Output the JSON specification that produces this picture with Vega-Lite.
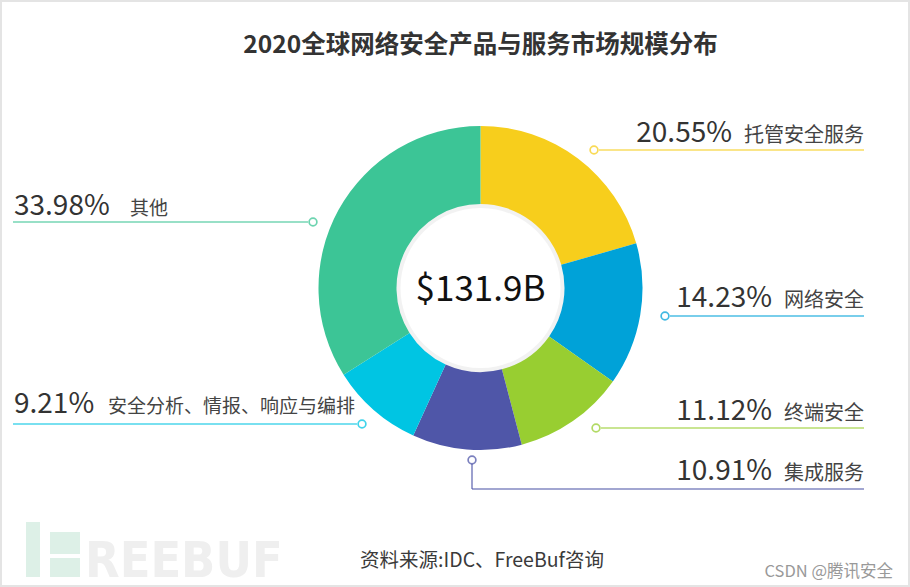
{
  "$schema": "https://vega.github.io/schema/vega-lite/v6.json",
  "width": 910,
  "height": 587,
  "autosize": {"type": "fit", "contains": "padding"},
  "padding": 0,
  "background": "white",
  "config": {
    "view": {"stroke": "#E4E4E4", "strokeWidth": 4},
    "font": "Noto Sans CJK SC"
  },
  "datasets": {
    "segments": [
      {"category": "托管安全服务", "share": 0.2055, "order": 1},
      {"category": "网络安全", "share": 0.1423, "order": 2},
      {"category": "终端安全", "share": 0.1112, "order": 3},
      {"category": "集成服务", "share": 0.1091, "order": 4},
      {"category": "安全分析、情报、响应与编排", "share": 0.0921, "order": 5},
      {"category": "其他", "share": 0.3398, "order": 6}
    ],
    "callouts": [
      {"category": "托管安全服务", "side": "R", "dotX": 594, "dotY": 150, "lineX1": 599, "lineX2": 864, "lineY": 150, "numX": 732, "nameX": 864, "textY": 142},
      {"category": "网络安全", "side": "R", "dotX": 665, "dotY": 316, "lineX1": 670, "lineX2": 864, "lineY": 316, "numX": 772, "nameX": 864, "textY": 307},
      {"category": "终端安全", "side": "R", "dotX": 596, "dotY": 428, "lineX1": 601, "lineX2": 864, "lineY": 428, "numX": 772, "nameX": 864, "textY": 420},
      {"category": "集成服务", "side": "R", "dotX": 472, "dotY": 460, "lineX1": 472, "lineX2": 864, "lineY": 489, "numX": 772, "nameX": 864, "textY": 480},
      {"category": "其他", "side": "L", "dotX": 313, "dotY": 222, "lineX1": 13, "lineX2": 308, "lineY": 222, "numX": 14, "nameX": 130, "textY": 215},
      {"category": "安全分析、情报、响应与编排", "side": "L", "dotX": 362, "dotY": 424, "lineX1": 13, "lineX2": 357, "lineY": 424, "numX": 14, "nameX": 108, "textY": 413}
    ],
    "elbows": [
      {"category": "集成服务", "x": 472, "y1": 464, "y2": 489}
    ],
    "logo": [
      {"part": "stem", "x1": 26, "x2": 40, "y1": 522, "y2": 577},
      {"part": "top", "x1": 50, "x2": 80, "y1": 532, "y2": 554},
      {"part": "bottom", "x1": 50, "x2": 80, "y1": 558, "y2": 577}
    ]
  },
  "layer": [
    {
      "data": {"name": "logo"},
      "mark": {"type": "rect", "color": "#DDF0E7"},
      "encoding": {
        "x": {"field": "x1", "type": "quantitative", "scale": {"domain": [0, 910], "nice": false, "zero": false}, "axis": null},
        "x2": {"field": "x2"},
        "y": {"field": "y1", "type": "quantitative", "scale": {"domain": [0, 587], "nice": false, "zero": false, "reverse": true}, "axis": null},
        "y2": {"field": "y2"}
      }
    },
    {
      "data": {"values": [{}]},
      "mark": {"type": "text", "text": "REEBUF", "font": "DejaVu Sans Condensed, DejaVu Sans", "fontWeight": "bold", "fontSize": 50, "color": "#EFEFEF", "align": "left", "baseline": "alphabetic"},
      "encoding": {
        "x": {"datum": 85, "type": "quantitative", "scale": {"domain": [0, 910], "nice": false, "zero": false}, "axis": null},
        "y": {"datum": 577, "type": "quantitative", "scale": {"domain": [0, 587], "nice": false, "zero": false, "reverse": true}, "axis": null}
      }
    },
    {
      "data": {"values": [{}]},
      "mark": {"type": "arc", "innerRadius": 80, "outerRadius": 86, "color": "#000000", "opacity": 0.05},
      "encoding": {
        "x": {"datum": 480.5, "type": "quantitative", "scale": {"domain": [0, 910], "nice": false, "zero": false}, "axis": null},
        "y": {"datum": 288, "type": "quantitative", "scale": {"domain": [0, 587], "nice": false, "zero": false, "reverse": true}, "axis": null}
      }
    },
    {
      "data": {"name": "segments"},
      "mark": {"type": "arc", "innerRadius": 84, "outerRadius": 162},
      "encoding": {
        "theta": {"field": "share", "type": "quantitative", "stack": true},
        "order": {"field": "order", "type": "quantitative"},
        "color": {
          "field": "category", "type": "nominal", "legend": null,
          "scale": {
            "domain": ["托管安全服务", "网络安全", "终端安全", "集成服务", "安全分析、情报、响应与编排", "其他"],
            "range": ["#F7CE1C", "#00A2D8", "#98CE31", "#4F56A8", "#00C5E3", "#3CC596"]
          }
        },
        "x": {"datum": 480.5, "type": "quantitative", "scale": {"domain": [0, 910], "nice": false, "zero": false}, "axis": null},
        "y": {"datum": 288, "type": "quantitative", "scale": {"domain": [0, 587], "nice": false, "zero": false, "reverse": true}, "axis": null}
      }
    },
    {
      "data": {"name": "callouts"},
      "mark": {"type": "rule", "strokeWidth": 1.6, "opacity": 0.7},
      "encoding": {
        "x": {"field": "lineX1", "type": "quantitative", "scale": {"domain": [0, 910], "nice": false, "zero": false}, "axis": null},
        "x2": {"field": "lineX2"},
        "y": {"field": "lineY", "type": "quantitative", "scale": {"domain": [0, 587], "nice": false, "zero": false, "reverse": true}, "axis": null},
        "color": {
          "field": "category", "type": "nominal", "legend": null,
          "scale": {
            "domain": ["托管安全服务", "网络安全", "终端安全", "集成服务", "安全分析、情报、响应与编排", "其他"],
            "range": ["#F7CE1C", "#00A2D8", "#98CE31", "#4F56A8", "#00C5E3", "#3CC596"]
          }
        }
      }
    },
    {
      "data": {"name": "elbows"},
      "mark": {"type": "rule", "strokeWidth": 1.6, "opacity": 0.7},
      "encoding": {
        "x": {"field": "x", "type": "quantitative", "scale": {"domain": [0, 910], "nice": false, "zero": false}, "axis": null},
        "y": {"field": "y1", "type": "quantitative", "scale": {"domain": [0, 587], "nice": false, "zero": false, "reverse": true}, "axis": null},
        "y2": {"field": "y2"},
        "color": {
          "field": "category", "type": "nominal", "legend": null,
          "scale": {
            "domain": ["托管安全服务", "网络安全", "终端安全", "集成服务", "安全分析、情报、响应与编排", "其他"],
            "range": ["#F7CE1C", "#00A2D8", "#98CE31", "#4F56A8", "#00C5E3", "#3CC596"]
          }
        }
      }
    },
    {
      "data": {"name": "callouts"},
      "mark": {"type": "point", "shape": "circle", "filled": false, "fill": "white", "fillOpacity": 1, "size": 60, "strokeWidth": 1.7, "opacity": 1, "strokeOpacity": 0.75},
      "encoding": {
        "x": {"field": "dotX", "type": "quantitative", "scale": {"domain": [0, 910], "nice": false, "zero": false}, "axis": null},
        "y": {"field": "dotY", "type": "quantitative", "scale": {"domain": [0, 587], "nice": false, "zero": false, "reverse": true}, "axis": null},
        "color": {
          "field": "category", "type": "nominal", "legend": null,
          "scale": {
            "domain": ["托管安全服务", "网络安全", "终端安全", "集成服务", "安全分析、情报、响应与编排", "其他"],
            "range": ["#F7CE1C", "#00A2D8", "#98CE31", "#4F56A8", "#00C5E3", "#3CC596"]
          }
        }
      }
    },
    {
      "data": {"name": "callouts"},
      "transform": [
        {"filter": "datum.side === 'R'"},
        {"lookup": "category", "from": {"data": {"name": "segments"}, "key": "category", "fields": ["share"]}}
      ],
      "mark": {"type": "text", "align": "right", "baseline": "alphabetic", "fontSize": 28, "color": "#333333"},
      "encoding": {
        "x": {"field": "numX", "type": "quantitative", "scale": {"domain": [0, 910], "nice": false, "zero": false}, "axis": null},
        "y": {"field": "textY", "type": "quantitative", "scale": {"domain": [0, 587], "nice": false, "zero": false, "reverse": true}, "axis": null},
        "text": {"field": "share", "type": "quantitative", "format": ".2%"}
      }
    },
    {
      "data": {"name": "callouts"},
      "transform": [{"filter": "datum.side === 'R'"}],
      "mark": {"type": "text", "align": "right", "baseline": "alphabetic", "fontSize": 20, "color": "#444444"},
      "encoding": {
        "x": {"field": "nameX", "type": "quantitative", "scale": {"domain": [0, 910], "nice": false, "zero": false}, "axis": null},
        "y": {"field": "textY", "type": "quantitative", "scale": {"domain": [0, 587], "nice": false, "zero": false, "reverse": true}, "axis": null},
        "text": {"field": "category", "type": "nominal"}
      }
    },
    {
      "data": {"name": "callouts"},
      "transform": [
        {"filter": "datum.side === 'L'"},
        {"lookup": "category", "from": {"data": {"name": "segments"}, "key": "category", "fields": ["share"]}}
      ],
      "mark": {"type": "text", "align": "left", "baseline": "alphabetic", "fontSize": 28, "color": "#333333"},
      "encoding": {
        "x": {"field": "numX", "type": "quantitative", "scale": {"domain": [0, 910], "nice": false, "zero": false}, "axis": null},
        "y": {"field": "textY", "type": "quantitative", "scale": {"domain": [0, 587], "nice": false, "zero": false, "reverse": true}, "axis": null},
        "text": {"field": "share", "type": "quantitative", "format": ".2%"}
      }
    },
    {
      "data": {"name": "callouts"},
      "transform": [{"filter": "datum.side === 'L'"}],
      "mark": {"type": "text", "align": "left", "baseline": "alphabetic", "fontSize": 19, "color": "#444444"},
      "encoding": {
        "x": {"field": "nameX", "type": "quantitative", "scale": {"domain": [0, 910], "nice": false, "zero": false}, "axis": null},
        "y": {"field": "textY", "type": "quantitative", "scale": {"domain": [0, 587], "nice": false, "zero": false, "reverse": true}, "axis": null},
        "text": {"field": "category", "type": "nominal"}
      }
    },
    {
      "data": {"values": [{}]},
      "mark": {"type": "text", "text": "$131.9B", "fontSize": 35, "color": "#111111", "align": "center", "baseline": "alphabetic"},
      "encoding": {
        "x": {"datum": 480.5, "type": "quantitative", "scale": {"domain": [0, 910], "nice": false, "zero": false}, "axis": null},
        "y": {"datum": 301, "type": "quantitative", "scale": {"domain": [0, 587], "nice": false, "zero": false, "reverse": true}, "axis": null}
      }
    },
    {
      "data": {"values": [{}]},
      "mark": {"type": "text", "text": "2020全球网络安全产品与服务市场规模分布", "fontSize": 24.5, "fontWeight": "bold", "color": "#333333", "align": "center", "baseline": "alphabetic"},
      "encoding": {
        "x": {"datum": 480.5, "type": "quantitative", "scale": {"domain": [0, 910], "nice": false, "zero": false}, "axis": null},
        "y": {"datum": 53, "type": "quantitative", "scale": {"domain": [0, 587], "nice": false, "zero": false, "reverse": true}, "axis": null}
      }
    },
    {
      "data": {"values": [{}]},
      "mark": {"type": "text", "text": "资料来源:IDC、FreeBuf咨询", "fontSize": 19.5, "color": "#3A3A3A", "align": "center", "baseline": "alphabetic"},
      "encoding": {
        "x": {"datum": 482, "type": "quantitative", "scale": {"domain": [0, 910], "nice": false, "zero": false}, "axis": null},
        "y": {"datum": 567, "type": "quantitative", "scale": {"domain": [0, 587], "nice": false, "zero": false, "reverse": true}, "axis": null}
      }
    },
    {
      "data": {"values": [{}]},
      "mark": {"type": "text", "text": "CSDN @腾讯安全", "fontSize": 16.5, "color": "#999999", "align": "right", "baseline": "alphabetic"},
      "encoding": {
        "x": {"datum": 893, "type": "quantitative", "scale": {"domain": [0, 910], "nice": false, "zero": false}, "axis": null},
        "y": {"datum": 577, "type": "quantitative", "scale": {"domain": [0, 587], "nice": false, "zero": false, "reverse": true}, "axis": null}
      }
    }
  ]
}
